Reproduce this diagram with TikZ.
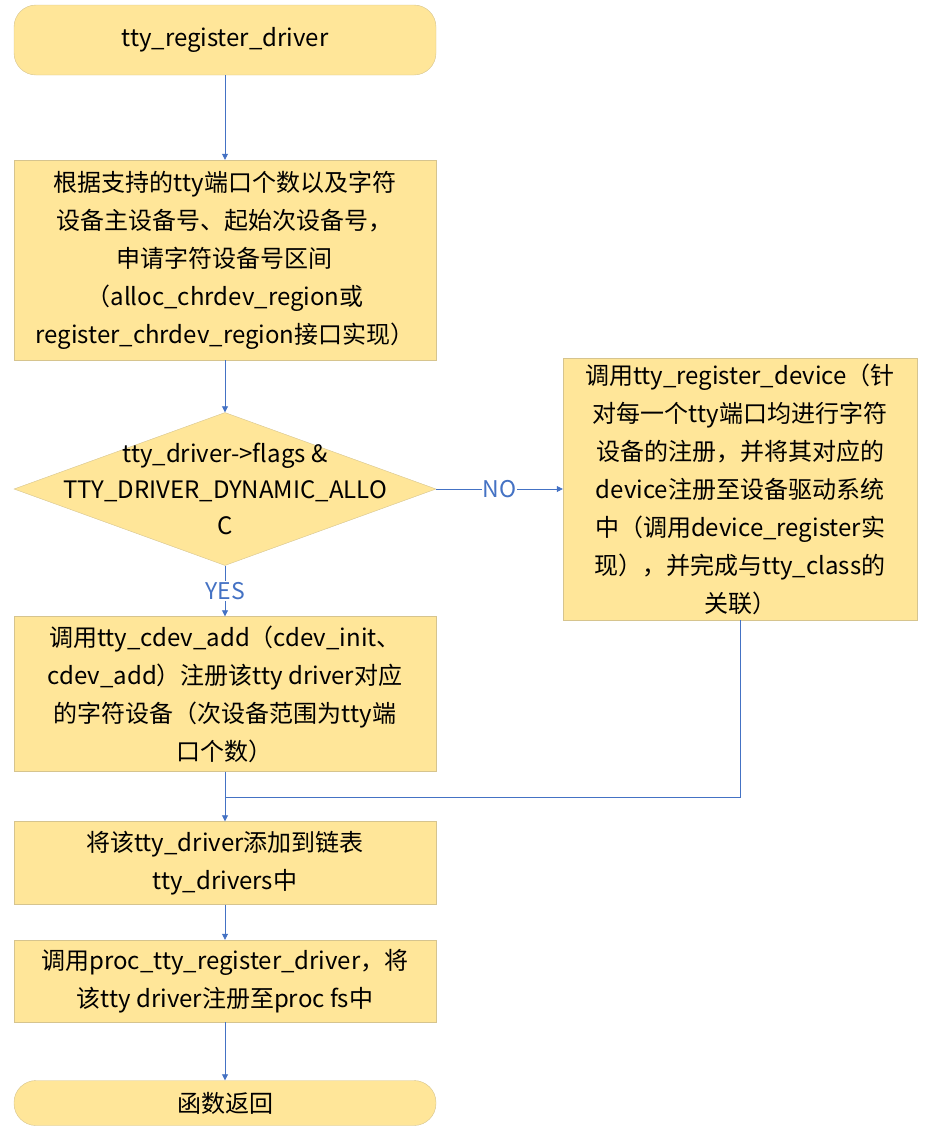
\documentclass[tikz,border=0pt]{standalone}
\usepackage{fontspec}
\setmainfont{Noto Sans CJK SC}
\usetikzlibrary{shapes.geometric,arrows.meta}
\definecolor{boxfill}{HTML}{FFE699}
\definecolor{boxline}{HTML}{D6C48E}
\definecolor{flowblue}{HTML}{4472C4}
\tikzset{
	procbox/.style={draw=boxline, fill=boxfill, align=center, inner sep=0pt, font=\fontsize{24}{38}\selectfont},
	termbox/.style={procbox, rounded corners=22pt},
	flow/.style={draw=flowblue, line width=0.8pt, -{Triangle[length=6pt,width=6pt]}},
	flowlabel/.style={text=flowblue, font=\fontsize{23}{26}\selectfont}
}
\begin{document}
\begin{tikzpicture}[x=1pt, y=-1pt]
		\useasboundingbox (0,0) rectangle (931,1133);
		
		\node[termbox, minimum width=422pt, minimum height=70pt] (start) at (225,40) {tty\_register\_driver};
		\node[procbox, minimum width=422pt, minimum height=200pt] (alloc) at (225,260)
			{根据支持的tty端口个数以及字符\\设备主设备号、起始次设备号，\\申请字符设备号区间\\（alloc\_chrdev\_region或\\register\_chrdev\_region接口实现）};
		\node[diamond, draw=boxline, fill=boxfill, minimum width=422pt, minimum height=153pt, inner sep=0pt] (check) at (225,489) {};
		\node[align=center, font=\fontsize{24}{36}\selectfont] (checktext) at (check.center) {tty\_driver->flags \&\\TTY\_DRIVER\_DYNAMIC\_ALLO\\C};
		\node[procbox, minimum width=422pt, minimum height=155pt] (cdev) at (225,694)
			{调用tty\_cdev\_add（cdev\_init、\\cdev\_add）注册该tty driver对应\\的字符设备（次设备范围为tty端\\口个数）};
		\node[procbox, minimum width=354pt, minimum height=262pt] (regdev) at (740,489)
			{调用tty\_register\_device（针\\对每一个tty端口均进行字符\\设备的注册，并将其对应的\\device注册至设备驱动系统\\中（调用device\_register实\\现），并完成与tty\_class的\\关联）};
		\node[procbox, minimum width=422pt, minimum height=83pt] (addlist) at (225,863)
			{将该tty\_driver添加到链表\\tty\_drivers中};
		\node[procbox, minimum width=422pt, minimum height=82pt] (procreg) at (225,981)
			{调用proc\_tty\_register\_driver，将\\该tty driver注册至proc fs中};
		\node[termbox, minimum width=422pt, minimum height=45pt] (finish) at (225,1103) {函数返回};
		
		\coordinate (join) at (225,797);
		
		\draw[flow] (start) -- (alloc);
		\draw[flow] (alloc) -- (check);
		\draw[flow] (check) -- node[flowlabel, fill=white, inner sep=1pt] {NO} (regdev);
		\draw[flow] (check) -- node[flowlabel, fill=white, inner sep=1pt, pos=0.5] {YES} (cdev);
		\draw[flow] (cdev) -- (addlist);
		\draw[draw=flowblue, line width=0.8pt] (regdev) |- (join);
		\draw[flow] (addlist) -- (procreg);
		\draw[flow] (procreg) -- (finish);
	\end{tikzpicture}
\end{document}
